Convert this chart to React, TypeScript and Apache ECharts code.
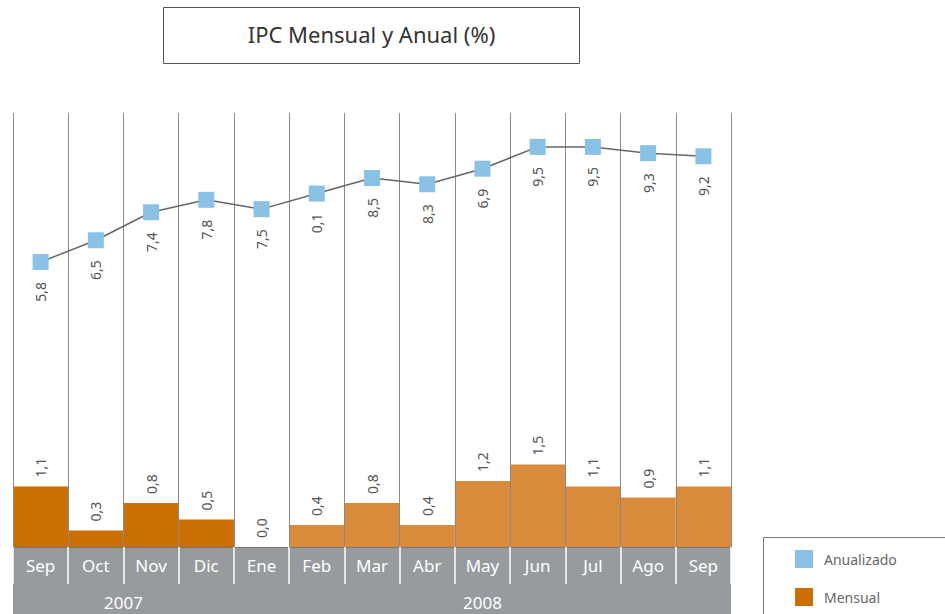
import React, { useEffect, useRef } from "react";
import * as echarts from "echarts";

// Categories
const months = ["Sep", "Oct", "Nov", "Dic", "Ene", "Feb", "Mar", "Abr", "May", "Jun", "Jul", "Ago", "Sep"];
const monthYear = [2007, 2007, 2007, 2007, 2008, 2008, 2008, 2008, 2008, 2008, 2008, 2008, 2008];
const yearLabels = ["2007", "2008"];

// Anualizado (line) – values as placed in the picture, labels as printed
const anualizado = [5.8, 6.5, 7.4, 7.8, 7.5, 8.0, 8.5, 8.3, 8.8, 9.5, 9.5, 9.3, 9.2];
const anualizadoLabels = ["5,8", "6,5", "7,4", "7,8", "7,5", "0,1", "8,5", "8,3", "6,9", "9,5", "9,5", "9,3", "9,2"];

// Mensual (bars)
const mensual = [1.1, 0.3, 0.8, 0.5, 0.0, 0.4, 0.8, 0.4, 1.2, 1.5, 1.1, 0.9, 1.1];
const mensualLabels = ["1,1", "0,3", "0,8", "0,5", "0,0", "0,4", "0,8", "0,4", "1,2", "1,5", "1,1", "0,9", "1,1"];

const FONT = "'Noto Sans', 'Open Sans', sans-serif";
const C2007 = "#CC6F02";
const C2008 = "#D98B3B";
const BLUE = "#8AC2E6";
const BAND = "#979B9E";

export default function App() {
  const ref = useRef<HTMLDivElement>(null);

  useEffect(() => {
    if (!ref.current) return;
    const chart = echarts.init(ref.current, undefined, { renderer: "svg" });
    const nFirstYear = monthYear.filter((y) => y === 2007).length;
    const n = months.length;

    chart.setOption({
      animation: false,
      backgroundColor: "#ffffff",
      textStyle: { fontFamily: FONT },
      grid: { left: 13, right: 214, top: 113, bottom: 67, containLabel: false },
      graphic: [
        {
          type: "rect",
          z: -1,
          shape: { x: 13, y: 547, width: 718, height: 67 },
          style: { fill: BAND },
        },
        {
          type: "rect",
          shape: { x: 163.5, y: 7.5, width: 416, height: 56 },
          style: { fill: "#fff", stroke: "#555", lineWidth: 1 },
        },
        {
          type: "text",
          x: 371.5,
          y: 34,
          style: {
            text: "IPC Mensual y Anual (%)",
            textAlign: "center",
            textVerticalAlign: "middle",
            fontSize: 22,
            fontFamily: FONT,
            fill: "#333",
          },
        },
        {
          type: "rect",
          shape: { x: 763.5, y: 537.5, width: 200, height: 100 },
          style: { fill: "none", stroke: "#777", lineWidth: 1 },
        },
      ],
      legend: {
        orient: "vertical",
        left: 795,
        top: 550,
        padding: 0,
        itemWidth: 18,
        itemHeight: 18,
        itemGap: 20,
        textStyle: { color: "#666", fontSize: 14, fontFamily: FONT, padding: [0, 0, 0, 6] },
        data: [
          { name: "Anualizado", icon: "rect" },
          { name: "Mensual", icon: "rect" },
        ],
      },
      xAxis: [
        {
          type: "category",
          data: months,
          boundaryGap: true,
          z: 3,
          axisLine: { show: true, lineStyle: { color: "#777", width: 1 } },
          axisTick: { show: true, length: 37, lineStyle: { color: "#fff", width: 1.5 } },
          axisLabel: { color: "#fff", fontSize: 17, margin: 10, fontFamily: FONT },
          splitLine: { show: true, lineStyle: { color: "#8a8a8a", width: 1 } },
        },
        {
          type: "value",
          min: 0,
          max: n,
          position: "bottom",
          offset: 37,
          axisLine: { show: true, lineStyle: { color: "#fff", width: 1.5 } },
          axisTick: { show: true, customValues: [nFirstYear], length: 30, lineStyle: { color: "#fff", width: 1.5 } },
          axisLabel: {
            show: true,
            customValues: [nFirstYear / 2, nFirstYear + (n - nFirstYear) / 2],
            formatter: (v: number) => (v < nFirstYear ? yearLabels[0] : yearLabels[1]),
            color: "#fff",
            fontSize: 17,
            margin: 10,
            fontFamily: FONT,
          },
          splitLine: { show: false },
        },
      ],
      yAxis: [
        { type: "value", min: 0, max: 7.88, show: false, splitLine: { show: false } },
        { type: "value", min: -3.36, max: 10.59, show: false, splitLine: { show: false } },
      ],
      series: [
        {
          type: "bar",
          name: "Mensual",
          xAxisIndex: 0,
          yAxisIndex: 0,
          barWidth: "100%",
          barCategoryGap: 0,
          itemStyle: { color: C2007 },
          data: mensual.map((v, i) => ({
            value: v,
            itemStyle: { color: monthYear[i] === 2007 ? C2007 : C2008 },
          })),
          label: {
            show: true,
            position: "top",
            rotate: 90,
            align: "left",
            verticalAlign: "middle",
            distance: 9,
            color: "#555",
            fontSize: 14,
            fontFamily: FONT,
            formatter: (p: any) => mensualLabels[p.dataIndex],
          },
        },
        {
          type: "line",
          name: "Anualizado",
          xAxisIndex: 0,
          yAxisIndex: 1,
          z: 10,
          symbol: "rect",
          symbolSize: 16,
          itemStyle: { color: BLUE },
          lineStyle: { color: "#666", width: 1.5 },
          data: anualizado,
          label: {
            show: true,
            position: "bottom",
            rotate: 90,
            align: "right",
            verticalAlign: "middle",
            distance: 12,
            color: "#555",
            fontSize: 14,
            fontFamily: FONT,
            formatter: (p: any) => anualizadoLabels[p.dataIndex],
          },
        },
      ],
    });

    return () => chart.dispose();
  }, []);

  return (
    <div
      ref={ref}
      style={{ position: "absolute", left: 0, top: 0, width: 945, height: 614 }}
    />
  );
}
